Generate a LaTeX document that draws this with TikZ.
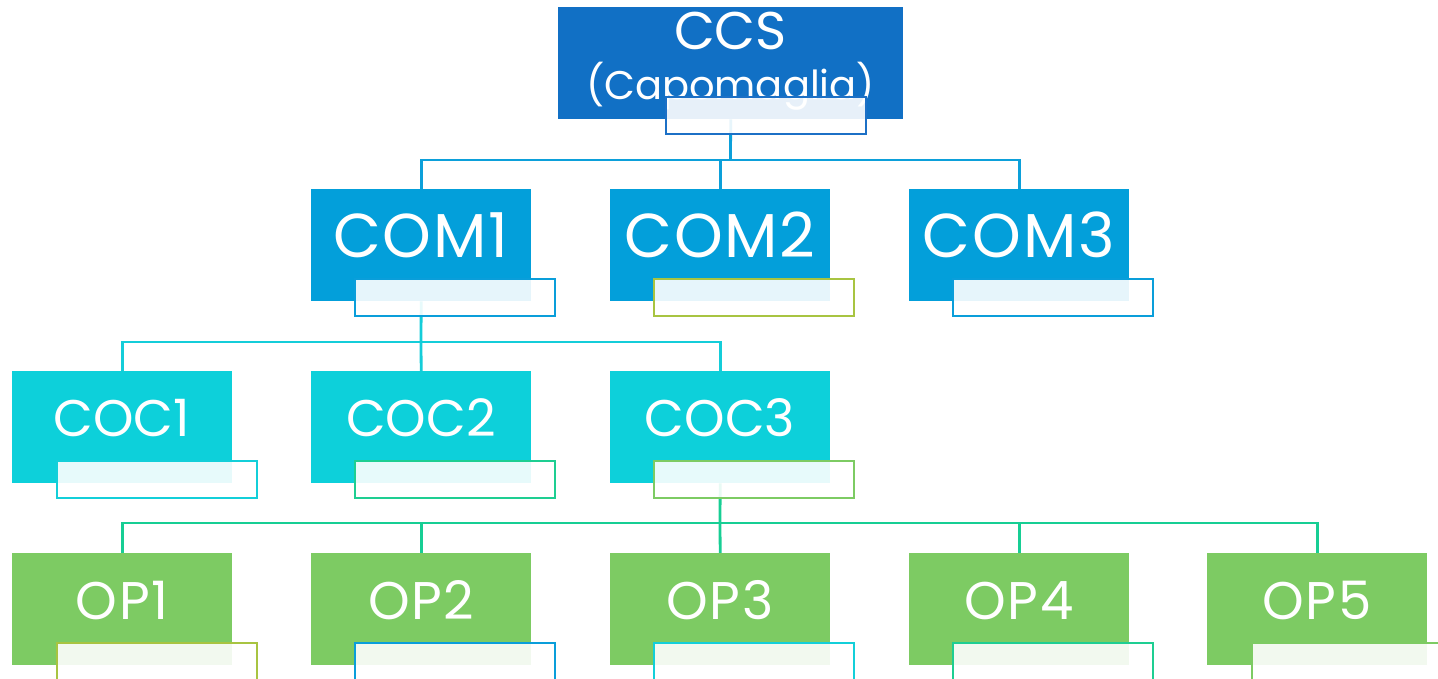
\documentclass[tikz,border=0pt]{standalone}
\usepackage{fontspec}
\setmainfont{Poppins}
\usetikzlibrary{backgrounds}
\definecolor{ccsfill}{HTML}{1170C5}
\definecolor{comfill}{HTML}{039FDA}
\definecolor{cocfill}{HTML}{0DD0DA}
\definecolor{opfill}{HTML}{7DCB63}
\definecolor{lineA}{HTML}{0CA0DA}
\definecolor{lineB}{HTML}{14CDD9}
\definecolor{lineC}{HTML}{17CE94}
\definecolor{secA}{HTML}{1C70C6}
\definecolor{secB}{HTML}{0A9EDA}
\definecolor{secY}{HTML}{A8C441}
\definecolor{secC}{HTML}{13CFD9}
\definecolor{secT}{HTML}{1ECE92}
\definecolor{secG}{HTML}{7DCB63}
\tikzset{
  mainbox/.style={draw=none, inner sep=0pt, anchor=north west, minimum width=220pt, minimum height=112pt},
  secbox/.style={draw=#1, line width=2.4pt, fill=white, fill opacity=0.9, inner sep=0pt, anchor=north west, minimum width=200pt, minimum height=37pt},
  lbl/.style={text=white, inner sep=0pt, anchor=base},
  fCOM/.style={font=\fontsize{62}{70}\selectfont\addfontfeature{LetterSpace=3}},
  fCOC/.style={font=\fontsize{51.5}{60}\selectfont},
  fOP/.style={font=\fontsize{53}{60}\selectfont\addfontfeature{LetterSpace=3}},
  conn/.style={draw=#1, line width=2.8pt},
}
\begin{document}
\begin{tikzpicture}[x=1pt,y=-1pt]
\useasboundingbox (0,0) rectangle (1438,678);
\clip (0,0) rectangle (1438,678);
% main boxes
\node[mainbox, fill=ccsfill, minimum width=345pt] (ccs) at (558,7) {};
\node[mainbox, fill=comfill] (com1) at (311,189) {};
\node[mainbox, fill=comfill] (com2) at (610,189) {};
\node[mainbox, fill=comfill] (com3) at (909,189) {};
\node[mainbox, fill=cocfill] (coc1) at (12,371) {};
\node[mainbox, fill=cocfill] (coc2) at (311,371) {};
\node[mainbox, fill=cocfill] (coc3) at (610,371) {};
\node[mainbox, fill=opfill] (op1) at (12,553) {};
\node[mainbox, fill=opfill] (op2) at (311,553) {};
\node[mainbox, fill=opfill] (op3) at (610,553) {};
\node[mainbox, fill=opfill] (op4) at (909,553) {};
\node[mainbox, fill=opfill] (op5) at (1207,553) {};
% labels
\node[lbl, font=\fontsize{53}{60}\selectfont] (ccsa) at (730.5,49) {CCS};
\node[lbl, font=\fontsize{40}{48}\selectfont] (ccsb) at (730.5,99) {(Capomaglia)};
\node[lbl, fCOM] (com1t) at (421,257) {COM1};
\node[lbl, fCOM] (com2t) at (720,257) {COM2};
\node[lbl, fCOM] (com3t) at (1019,257) {COM3};
\node[lbl, fCOC] (coc1t) at (122,436) {COC1};
\node[lbl, fCOC] (coc2t) at (421,436) {COC2};
\node[lbl, fCOC] (coc3t) at (720,436) {COC3};
\node[lbl, fOP] (op1t) at (122,619) {OP1};
\node[lbl, fOP] (op2t) at (421,619) {OP2};
\node[lbl, fOP] (op3t) at (720,619) {OP3};
\node[lbl, fOP] (op4t) at (1019,619) {OP4};
\node[lbl, fOP] (op5t) at (1317,619) {OP5};
% secondary boxes
\node[secbox=secA] (ccss) at (665,96) {};
\node[secbox=secB] (com1s) at (354,278) {};
\node[secbox=secY] (com2s) at (653,278) {};
\node[secbox=secB] (com3s) at (952,278) {};
\node[secbox=secC] (coc1s) at (56,460) {};
\node[secbox=secT] (coc2s) at (354,460) {};
\node[secbox=secG] (coc3s) at (653,460) {};
\node[secbox=secY] (op1s) at (56,642) {};
\node[secbox=secB] (op2s) at (354,642) {};
\node[secbox=secC] (op3s) at (653,642) {};
\node[secbox=secT] (op4s) at (952,642) {};
\node[secbox=secG] (op5s) at (1251,642) {};
% connectors
\coordinate (j1) at (730.5,160);
\coordinate (j2) at (421,342);
\coordinate (j3) at (720,523);
\begin{scope}[on background layer]
\draw[conn=lineA] (ccs.south) -- (j1);
\draw[conn=lineA] (j1) -| (com1.north);
\draw[conn=lineA] (j1) -| (com2.north);
\draw[conn=lineA] (j1) -| (com3.north);
\draw[conn=lineB] (com1.south) -- (j2);
\draw[conn=lineB] (j2) -| (coc1.north);
\draw[conn=lineB] (j2) -- (coc2.north);
\draw[conn=lineB] (j2) -| (coc3.north);
\draw[conn=lineC] (coc3.south) -- (j3);
\draw[conn=lineC] (j3) -| (op1.north);
\draw[conn=lineC] (j3) -| (op2.north);
\draw[conn=lineC] (j3) -- (op3.north);
\draw[conn=lineC] (j3) -| (op4.north);
\draw[conn=lineC] (j3) -| (op5.north);
\end{scope}
\end{tikzpicture}
\end{document}
